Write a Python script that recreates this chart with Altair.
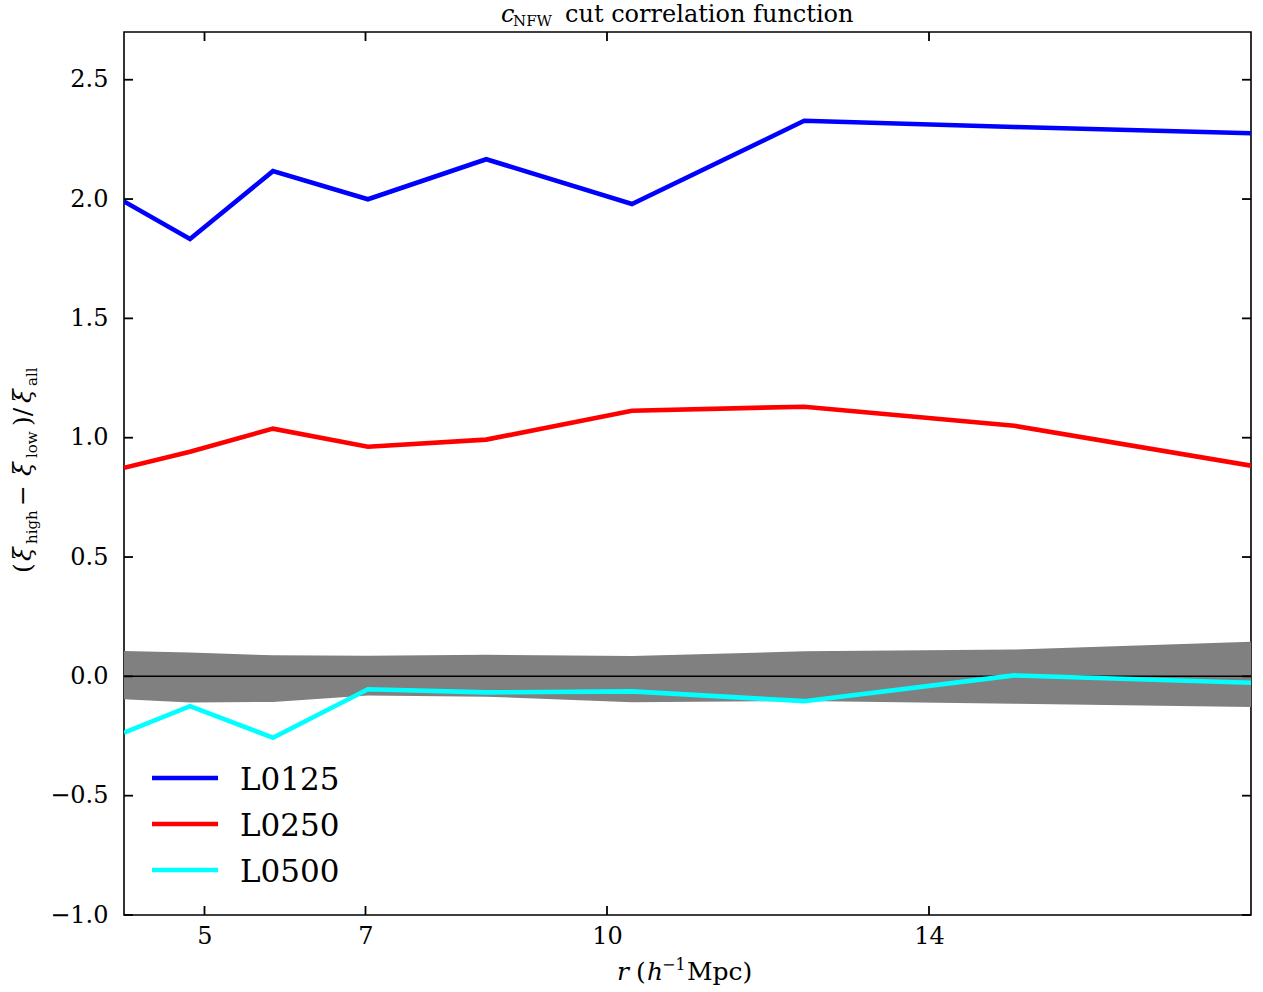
import altair as alt
import pandas as pd

# Separation bins (h^-1 Mpc)
R = [4.0, 4.82, 5.85, 7.03, 8.5, 10.31, 12.45, 15.06, 18.0]

# (xi_high - xi_low) / xi_all for each box size
L0125 = [1.990, 1.833, 2.117, 1.999, 2.167, 1.979, 2.328, 2.302, 2.276]
L0250 = [0.874, 0.941, 1.038, 0.962, 0.992, 1.113, 1.130, 1.050, 0.883]
L0500 = [-0.236, -0.125, -0.257, -0.054, -0.067, -0.063, -0.104, 0.004, -0.027]

# Scatter envelope around zero
BAND_HI = [0.106, 0.100, 0.088, 0.086, 0.090, 0.085, 0.105, 0.112, 0.145]
BAND_LO = [-0.096, -0.110, -0.107, -0.080, -0.085, -0.108, -0.103, -0.115, -0.128]

SERIES = ["L0125", "L0250", "L0500"]
COLORS = ["#0000ff", "#ff0000", "#00ffff"]

X_TICKS = [5, 7, 10, 14]
Y_TICKS = [-1.0, -0.5, 0.0, 0.5, 1.0, 1.5, 2.0, 2.5]

W, H = 1127, 883
SERIF = "DejaVu Serif"
LW = 4.6

lines = pd.DataFrame(
    [
        {"series": name, "r": r, "value": v, "order": i}
        for name, vals in zip(SERIES, [L0125, L0250, L0500])
        for i, (r, v) in enumerate(zip(R, vals))
    ]
)
band = pd.DataFrame({"r": R, "lo": BAND_LO, "hi": BAND_HI})
xt = pd.DataFrame({"r": X_TICKS})
yt = pd.DataFrame({"value": Y_TICKS})
one = pd.DataFrame({"k": [0]})

x_scale = alt.Scale(domain=[4, 18], nice=False, zero=False)
y_scale = alt.Scale(domain=[-1.0, 2.7], nice=False, zero=False)
x_axis = alt.Axis(values=X_TICKS, format="d", title=None, labelPadding=9)
y_axis = alt.Axis(values=Y_TICKS, format=".1f", title=None, labelPadding=16)


def X(field="r"):
    return alt.X(f"{field}:Q", scale=x_scale, axis=x_axis)


def Y(field="value"):
    return alt.Y(f"{field}:Q", scale=y_scale, axis=y_axis)


band_layer = alt.Chart(band).mark_area(color="#808080", opacity=1).encode(
    x=X(), y=Y("lo"), y2="hi:Q"
)

zero_layer = alt.Chart(pd.DataFrame({"value": [0.0]})).mark_rule(
    color="black", strokeWidth=1.5
).encode(y=Y())

line_layer = alt.Chart(lines).mark_line(strokeWidth=LW, clip=True).encode(
    x=X(),
    y=Y(),
    color=alt.Color("series:N", scale=alt.Scale(domain=SERIES, range=COLORS), legend=None),
    order="order:Q",
    detail="series:N",
)

# Inward ticks on all four sides
TL = 9
tick_kw = dict(color="black", strokeWidth=1.8)
ticks = [
    alt.Chart(xt).mark_rule(**tick_kw).encode(x=X(), y=alt.value(H), y2=alt.value(H - TL)),
    alt.Chart(xt).mark_rule(**tick_kw).encode(x=X(), y=alt.value(0), y2=alt.value(TL)),
    alt.Chart(yt).mark_rule(**tick_kw).encode(y=Y(), x=alt.value(0), x2=alt.value(TL)),
    alt.Chart(yt).mark_rule(**tick_kw).encode(y=Y(), x=alt.value(W), x2=alt.value(W - TL)),
]

# Legend in the lower-left corner
legend = []
for i, (name, col) in enumerate(zip(SERIES, COLORS)):
    ly = 746 + 46 * i
    legend.append(
        alt.Chart(one).mark_rule(color=col, strokeWidth=LW).encode(
            x=alt.value(28), x2=alt.value(94), y=alt.value(ly)
        )
    )
    legend.append(
        alt.Chart(one).mark_text(
            text=name, font=SERIF, fontSize=31, align="left", baseline="alphabetic"
        ).encode(x=alt.value(116), y=alt.value(ly + 12))
    )


def label(text, x, y, size, italic=False, angle=0):
    kw = dict(text=text, font=SERIF, fontSize=size, align="left", baseline="alphabetic",
              color="black")
    if italic:
        kw["fontStyle"] = "italic"
    if angle:
        kw["angle"] = angle
    return alt.Chart(one).mark_text(**kw).encode(x=alt.value(x), y=alt.value(y))


texts = [
    # title: c_NFW cut correlation function
    label("c", 377, -10, 24, italic=True),
    label("NFW", 389, -6, 15),
    label("cut correlation function", 441, -10, 24),
    # x title: r (h^-1 Mpc)
    label("r", 493, 948, 25, italic=True),
    label("(", 512, 948, 25),
    label("h", 523, 948, 25, italic=True),
    label("−1", 538, 938, 16),
    label("Mpc)", 563, 948, 25),
    # y title: (xi_high - xi_low) / xi_all, reading upward
    label("(", -93, 541, 25, angle=270),
    label("ξ", -93, 529, 25, italic=True, angle=270),
    label("high", -87, 512, 15, angle=270),
    label("−", -93, 474, 25, angle=270),
    label("ξ", -93, 444, 25, italic=True, angle=270),
    label("low", -87, 426, 15, angle=270),
    label(")/", -93, 394, 25, angle=270),
    label("ξ", -93, 371, 25, italic=True, angle=270),
    label("all", -87, 354, 15, angle=270),
]

chart = (
    alt.layer(band_layer, zero_layer, line_layer, *ticks, *legend, *texts)
    .properties(
        width=W,
        height=H,
        autosize="none",
        padding={"left": 124, "top": 32, "right": 12, "bottom": 77},
        background="white",
    )
    .configure_view(stroke="black", strokeWidth=1.6)
    .configure_axis(
        labelFont=SERIF,
        labelFontSize=24,
        labelColor="black",
        ticks=False,
        domain=False,
        grid=False,
    )
)

chart.save("out.html", embed_options={"renderer": "svg", "actions": False})
